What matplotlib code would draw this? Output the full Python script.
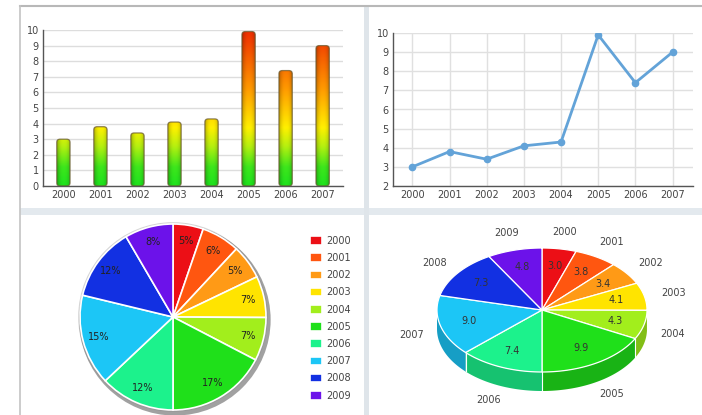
import numpy as np
import matplotlib
matplotlib.use("Agg")
import matplotlib.pyplot as plt
from matplotlib.patches import FancyBboxPatch, Rectangle, Polygon, Circle
from matplotlib.colors import LinearSegmentedColormap, to_rgb

# data
bar_years = ["2000", "2001", "2002", "2003", "2004", "2005", "2006", "2007"]
bar_values = [3.0, 3.8, 3.4, 4.1, 4.3, 9.9, 7.4, 9.0]

pie_years = ["2000", "2001", "2002", "2003", "2004", "2005", "2006", "2007", "2008", "2009"]
pie_values = [3.0, 3.8, 3.4, 4.1, 4.3, 9.9, 7.4, 9.0, 7.3, 4.8]
pie_colors = ["#ec0f16", "#ff5610", "#ff9a16", "#ffe400", "#a2ee1c", "#1fe01a",
              "#1cf28c", "#1cc6f6", "#1230e2", "#6c12ea"]

W, H = 702, 415
TXT = "#444444"
plt.rcParams["font.family"] = ["DejaVu Sans"]

fig = plt.figure(figsize=(W / 100, H / 100), dpi=100)
fig.patch.set_facecolor("white")


def px_axes(l, t, r, b, **kw):
    return fig.add_axes([l / W, 1 - b / H, (r - l) / W, (b - t) / H], **kw)


# background frame and separators
bg = px_axes(0, 0, W, H)
bg.set_xlim(0, W)
bg.set_ylim(H, 0)
bg.axis("off")
bg.set_zorder(-5)
bg.add_patch(Rectangle((20, 208), W - 20, 7, color="#e3e9ee", lw=0))
bg.add_patch(Rectangle((364, 6), 5, H - 6, color="#dfe5ea", lw=0))
bg.plot([20, W], [6, 6], color="#b8b8b8", lw=1.5)
bg.plot([20, 20], [6, H], color="#c4c4c4", lw=1.2)


def style_axes(ax):
    for s in ["top", "right"]:
        ax.spines[s].set_visible(False)
    for s in ["left", "bottom"]:
        ax.spines[s].set_color("#555555")
        ax.spines[s].set_linewidth(1.0)
    ax.tick_params(length=0, labelsize=7, colors=TXT, pad=3)
    ax.set_axisbelow(True)


# ---- bar chart with gradient bars
ax1 = px_axes(43, 30, 343, 186)
style_axes(ax1)
x = np.arange(len(bar_years))
ax1.set_yticks(range(0, 11))
ax1.set_xticks(x)
ax1.set_xticklabels(bar_years)
ax1.grid(axis="y", color="#dddddd", lw=1)

grad = LinearSegmentedColormap.from_list(
    "grad", [(0.0, "#1ee21e"), (0.12, "#3ee61c"), (0.25, "#b4f010"), (0.37, "#fff000"),
             (0.62, "#ff9a00"), (1.0, "#ee2a00")])
bw = 0.36
col = np.linspace(0, 1, 256).reshape(-1, 1)
u = np.linspace(-1, 1, 64)
shade = np.zeros((1, 64, 4))
shade[..., 3] = 0.28 * np.abs(u) ** 2.5
for xi, v in zip(x, bar_values):
    patch = FancyBboxPatch((xi - bw / 2, 0), bw, v,
                           boxstyle="round,pad=0,rounding_size=0.09",
                           mutation_aspect=2.3, facecolor="none",
                           edgecolor="#6a5a30", lw=0.9, alpha=0.75, zorder=4)
    ax1.add_patch(patch)
    im = ax1.imshow(col, extent=[xi - bw / 2, xi + bw / 2, 0, 10], origin="lower",
                    cmap=grad, aspect="auto", zorder=2)
    im.set_clip_path(patch)
    sh = ax1.imshow(shade, extent=[xi - bw / 2, xi + bw / 2, 0, 10],
                    aspect="auto", zorder=3)
    sh.set_clip_path(patch)
ax1.set_xlim(-0.55, len(bar_years) - 0.45)
ax1.set_ylim(0, 10)

# ---- line chart
ax2 = px_axes(393, 33, 693, 186)
style_axes(ax2)
ax2.plot(x, bar_values, color="#63a3d8", lw=2, marker="o", ms=4.5, zorder=3)
ax2.set_xlim(-0.52, len(bar_years) - 0.45)
ax2.set_ylim(2, 10)
ax2.set_yticks(range(2, 11))
ax2.set_xticks(x)
ax2.set_xticklabels(bar_years)
ax2.grid(color="#e0e0e0", lw=1)

# ---- flat pie
cx, cy, R = 173, 317, 93
ax3 = px_axes(cx - 1.15 * R, cy - 1.15 * R, cx + 1.15 * R, cy + 1.15 * R)
ax3.add_patch(Circle((0.02, -0.03), 1.03, color="#444444", alpha=0.5, lw=0, zorder=0))
ax3.add_patch(Circle((0.0, 0.0), 1.02, color="#888888", alpha=0.35, lw=0, zorder=0))
wedges, _, autotexts = ax3.pie(
    pie_values, colors=pie_colors, startangle=90, counterclock=False,
    autopct=lambda p: f"{int(p)}%", pctdistance=0.83,
    wedgeprops=dict(edgecolor="white", linewidth=1.2),
    textprops=dict(fontsize=7, color="#222222"))
ax3.set_xlim(-1.15, 1.15)
ax3.set_ylim(-1.15, 1.15)
ax3.set_aspect("equal")
ax3.axis("off")

fig.legend(wedges, pie_years, loc="upper left", bbox_to_anchor=(305 / W, 1 - 231 / H),
           frameon=False, fontsize=7, labelcolor=TXT, handlelength=1.25,
           handleheight=1.0, handletextpad=0.45, labelspacing=0.74, borderpad=0)

# ---- 3D-look pie
ax4 = px_axes(369, 215, W, H)
ax4.set_xlim(369, W)
ax4.set_ylim(H, 215)
ax4.axis("off")
pcx, pcy, rx, ry, depth = 542, 310, 105, 62, 19
total = sum(pie_values)
cum = np.concatenate([[0], np.cumsum(pie_values)]) / total
theta = np.deg2rad(90 - cum * 360)


def darker(c, f=0.8):
    return tuple(min(1, ch * f) for ch in to_rgb(c))


# sides (front half only)
for i, c in enumerate(pie_colors):
    t = np.linspace(theta[i], theta[i + 1], 80)
    t = t[np.sin(t) <= 0]
    if len(t) < 2:
        continue
    xs = pcx + rx * np.cos(t)
    ys = pcy - ry * np.sin(t)
    pts = np.column_stack([np.concatenate([xs, xs[::-1]]),
                           np.concatenate([ys, ys[::-1] + depth])])
    ax4.add_patch(Polygon(pts, closed=True, facecolor=darker(c), edgecolor="none", zorder=1))
for th in theta:
    if np.sin(th) < 0:
        bx, by = pcx + rx * np.cos(th), pcy - ry * np.sin(th)
        ax4.plot([bx, bx], [by, by + depth], color="white", lw=0.8, zorder=2)

# top faces
for i, c in enumerate(pie_colors):
    t = np.linspace(theta[i], theta[i + 1], 80)
    pts = np.column_stack([np.concatenate([[pcx], pcx + rx * np.cos(t)]),
                           np.concatenate([[pcy], pcy - ry * np.sin(t)])])
    ax4.add_patch(Polygon(pts, closed=True, facecolor=c, edgecolor="white", lw=0.9, zorder=3))

# labels
for i, (yr, v) in enumerate(zip(pie_years, pie_values)):
    tm = (theta[i] + theta[i + 1]) / 2
    ax4.text(pcx + 0.72 * rx * np.cos(tm), pcy - 0.72 * ry * np.sin(tm), f"{v:.1f}",
             fontsize=7, color="#333333", ha="center", va="center", zorder=4)
    lx = pcx + 1.28 * rx * np.cos(tm)
    ly = pcy - 1.28 * ry * np.sin(tm)
    if np.sin(tm) < 0:
        ly += depth * -np.sin(tm)
    ax4.text(lx, ly, yr, fontsize=7, color=TXT, ha="center", va="center", zorder=4)

fig.savefig("out.png", dpi=100, facecolor="white")
